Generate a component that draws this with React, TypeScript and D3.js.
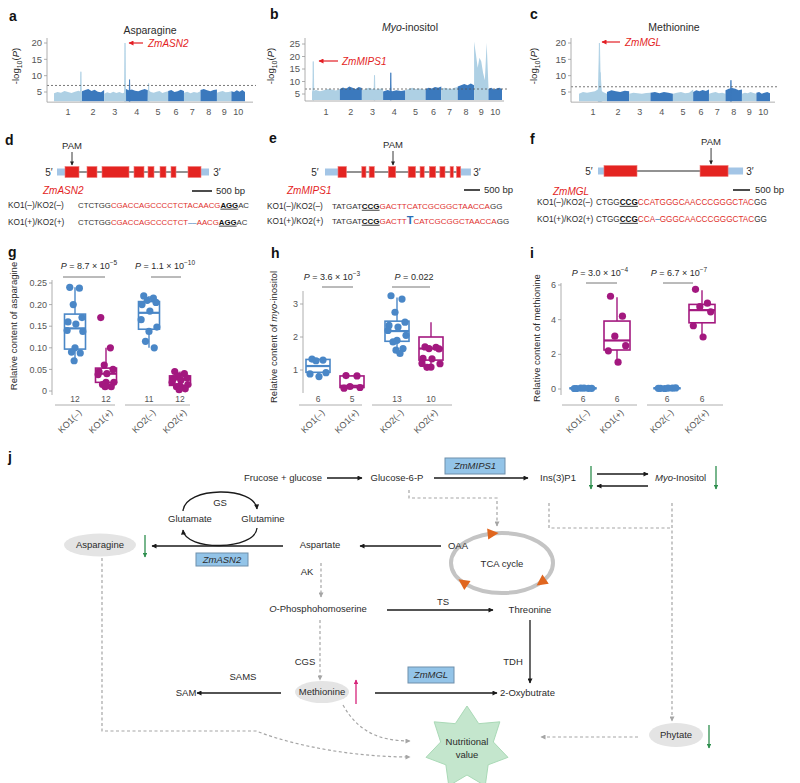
import React from 'react';
import * as d3 from 'd3';

const FONT = "'Liberation Sans', Arial, Helvetica, sans-serif";
const TXT = '#2b2b2b';
const GREY = '#555';
const BLUE = '#4a87c7';
const PURPLE = '#a3187f';
const LIGHT = '#aed0e4';
const DARK = '#3b79bd';
const RED = '#e31e24';

// ---------------- GWAS data ----------------
const chromosomes = ['1', '2', '3', '4', '5', '6', '7', '8', '9', '10'];
const chrLengthsMb = [308, 244, 235, 247, 223, 174, 182, 181, 159, 150];

const asnEnvelope = [
  [4.6, 5.0, 4.8, 5.3, 5.0, 4.7, 5.1, 5.4, 4.9],
  [5.2, 5.6, 5.9, 5.3, 5.7, 5.1, 4.9, 5.6],
  [4.5, 4.9, 4.6, 5.1, 4.7, 5.0, 4.6, 4.9],
  [6.0, 5.5, 5.8, 5.4, 5.2, 5.6, 5.9, 5.5],
  [5.6, 5.0, 4.8, 5.1, 5.3, 4.7, 5.0, 5.2],
  [5.3, 5.6, 5.0, 5.2, 5.7, 5.3],
  [4.8, 5.1, 4.6, 5.0, 4.8, 5.2],
  [5.6, 5.9, 5.5, 5.2, 5.6, 5.8],
  [4.8, 5.1, 5.3, 4.9, 5.0, 5.2],
  [5.2, 5.0, 5.5, 5.1, 5.6, 5.0],
];
// [chromosome index, position Mb, -log10 P, half span Mb]
const asnPeaks = [
  [0, 296, 11.2, 2],
  [2, 230, 20.0, 2],
  [3, 45, 8.8, 1],
  [4, 8, 7.6, 2],
];

const inoEnvelope = [
  [6.0, 6.6, 6.1, 6.5, 7.0, 6.8, 6.4, 7.0],
  [7.0, 7.6, 7.1, 8.0, 7.5, 7.0, 7.8, 7.4],
  [6.5, 7.0, 7.5, 7.0, 6.8, 7.1, 7.2],
  [6.0, 6.6, 6.1, 6.5, 6.2, 6.5],
  [6.5, 7.0, 7.5, 7.0, 7.2, 7.0, 6.8],
  [7.0, 7.5, 7.2, 7.8, 7.5, 8.0],
  [7.0, 7.5, 7.2, 7.0, 7.5, 7.8],
  [8.0, 8.5, 9.0, 8.5, 9.2, 8.5],
  [26.0, 21.0, 15.5, 19.5, 18.0, 13.5, 10.5, 25.5, 8.0],
  [7.0, 7.5, 6.8, 7.2, 7.5, 7.0],
];
const inoPeaks = [
  [0, 14, 18.0, 4],
  [2, 140, 12.5, 1],
  [3, 85, 13.5, 1],
];

const metEnvelope = [
  [4.5, 5.0, 4.8, 5.0, 5.2, 6.0, 5.0, 4.5],
  [5.0, 5.5, 5.2, 5.0, 5.4, 5.2],
  [4.5, 4.8, 4.6, 4.5, 4.7, 4.8],
  [4.8, 5.0, 4.6, 5.0, 4.8, 4.5],
  [4.5, 4.8, 5.0, 4.6, 4.8, 5.8],
  [5.0, 5.5, 5.2, 5.6, 5.3, 5.8],
  [4.5, 4.8, 5.0, 4.6, 4.8, 4.5],
  [5.5, 6.0, 6.2, 6.0, 5.5, 5.8],
  [4.5, 4.8, 4.6, 5.0, 4.7, 4.5],
  [4.8, 5.0, 4.5, 4.8, 5.0, 4.6],
];
const metPeaks = [
  [0, 225, 20.0, 14],
  [0, 232, 11.0, 22],
  [7, 60, 8.6, 2],
];

// ---------------- gene structures (bp) ----------------
const asn2Utr5 = [0, 200];
const asn2Exons = [[200, 550], [750, 1000], [1125, 1800], [1925, 2175], [2275, 2425], [2575, 2725], [2850, 2975], [3275, 3600]];
const asn2Utr3 = [3600, 3800];
const asn2Pam = 375;

const mips1Utr5 = [0, 406];
const mips1Exons = [[406, 670], [1150, 1280], [1380, 1540], [1980, 2210], [2600, 2830], [2970, 3100], [3260, 3460], [3590, 3750], [3910, 4010], [4110, 4240]];
const mips1Utr3 = [4240, 4560];
const mips1Pam = 2125;

const mglUtr5 = [0, 176];
const mglExons = [[176, 1147], [3000, 3824]];
const mglUtr3 = [3824, 4265];
const mglPam = 3324;

const genotypeLabels = ['KO1(–)/KO2(–)', 'KO1(+)/KO2(+)'];
// [sequence, role]
const asn2Seqs = [
  [['CTCTGG', 'flank'], ['CGACCAGCCCCTCTACAACG', 'target'], ['AGG', 'pam'], ['AC', 'flank']],
  [['CTCTGG', 'flank'], ['CGACCAGCCCCTCT', 'target'], ['––', 'edit'], ['AACG', 'target'], ['AGG', 'pam'], ['AC', 'flank']],
];
const mips1Seqs = [
  [['TATGAT', 'flank'], ['CCG', 'pam'], ['GACTTCATCGCGGCTAACCA', 'target'], ['GG', 'flank']],
  [['TATGAT', 'flank'], ['CCG', 'pam'], ['GACTT', 'target'], ['T', 'insert'], ['CATCGCGGCTAACCA', 'target'], ['GG', 'flank']],
];
const mglSeqs = [
  [['CTGG', 'flank'], ['CCG', 'pam'], ['CCATGGGCAACCCGGGCTAC', 'target'], ['GG', 'flank']],
  [['CTGG', 'flank'], ['CCG', 'pam'], ['CCA', 'target'], ['–', 'edit'], ['GGGCAACCCGGGCTAC', 'target'], ['GG', 'flank']],
];

// ---------------- phenotype data ----------------
const groupLabels = ['KO1(–)', 'KO1(+)', 'KO2(–)', 'KO2(+)'];

const asnValues = [
  [0.24, 0.238, 0.20, 0.17, 0.16, 0.155, 0.14, 0.138, 0.10, 0.09, 0.088, 0.07],
  [0.17, 0.10, 0.06, 0.05, 0.045, 0.04, 0.038, 0.02, 0.02, 0.015, 0.01, 0.01],
  [0.22, 0.215, 0.21, 0.205, 0.20, 0.185, 0.165, 0.148, 0.138, 0.115, 0.10],
  [0.045, 0.04, 0.035, 0.03, 0.028, 0.025, 0.02, 0.015, 0.012, 0.01, 0.005, 0.003],
];
// [q1, median, q3, low whisker, high whisker]
const asnBoxes = [
  [0.097, 0.145, 0.178, 0.07, 0.24],
  [0.02, 0.04, 0.053, 0.01, 0.10],
  [0.143, 0.181, 0.207, 0.10, 0.22],
  [0.013, 0.027, 0.035, 0.003, 0.045],
];
const asnCounts = [12, 12, 11, 12];
const asnP = [['8.7', '−5'], ['1.1', '−10']];

const inoValues = [
  [1.33, 1.3, 1.28, 0.92, 0.88, 0.80],
  [0.83, 0.82, 0.50, 0.47, 0.45],
  [3.25, 3.15, 2.75, 2.45, 2.35, 2.3, 2.2, 2.05, 1.9, 1.85, 1.65, 1.6, 1.5],
  [1.7, 1.69, 1.65, 1.64, 1.35, 1.34, 1.2, 1.19, 1.09, 1.08],
];
const inoBoxes = [
  [0.93, 1.12, 1.32, 0.80, 1.35],
  [0.47, 0.52, 0.82, 0.45, 0.84],
  [1.87, 2.18, 2.48, 1.5, 3.2],
  [1.3, 1.65, 2.0, 1.08, 2.45],
];
const inoCounts = [6, 5, 13, 10];
const inoP = [['3.6', '−3'], ['0.022', '']];

const metValues = [
  [0.03, 0.04, 0.05, 0.04, 0.03, 0.05],
  [5.35, 4.2, 3.05, 2.5, 2.2, 1.55],
  [0.04, 0.05, 0.03, 0.06, 0.04, 0.05],
  [5.75, 4.95, 4.75, 4.45, 3.65, 3.0],
];
const metBoxes = [
  [0.02, 0.04, 0.06, 0.01, 0.06],
  [2.25, 2.8, 3.92, 1.5, 5.3],
  [0.02, 0.05, 0.06, 0.02, 0.06],
  [3.82, 4.55, 4.88, 3.0, 5.7],
];
const metCounts = [6, 6, 6, 6];
const metP = [['3.0', '−4'], ['6.7', '−7']];

// ---------------- components ----------------
function Manhattan(props: any) {
  const { x0, x1, axisX, axisEnd, yDom, yRng, base, topY, ticks, threshold, env, peaks, labelX } = props;
  const total = d3.sum(chrLengthsMb);
  const starts = chrLengthsMb.map((_, i) => d3.sum(chrLengthsMb.slice(0, i)));
  const x = d3.scaleLinear().domain([0, total]).range([x0, x1]);
  const y = d3.scaleLinear().domain(yDom).range(yRng);
  const yb = y(base);
  const area = d3.area<number[]>().x(d => x(d[0])).y0(yb).y1(d => y(d[1]));
  const axisY = yb + 1;
  return (
    <g>
      {env.map((vals: number[], i: number) => {
        const s = starts[i], L = chrLengthsMb[i];
        const pts = vals.map((v, k) => [s + (L * k) / (vals.length - 1), v]);
        return <path key={i} d={area(pts) || ''} fill={i % 2 ? DARK : LIGHT} />;
      })}
      {peaks.map(([c, pos, v, hw]: number[], i: number) => {
        const px = x(starts[c] + pos);
        const w = Math.max(0.6, x(starts[c] + pos + hw) - px);
        const col = c % 2 ? DARK : LIGHT;
        return <path key={'p' + i} d={`M${px - w},${yb}L${px},${y(v)}L${px + w},${yb}Z`} fill={col} stroke={col} strokeWidth={0.8} />;
      })}
      <line x1={axisX} x2={axisEnd} y1={y(threshold)} y2={y(threshold)} stroke="#555" strokeWidth={0.8} strokeDasharray="2,2" />
      <line x1={axisX} x2={axisX} y1={topY} y2={axisY} stroke="#9a9a9a" strokeWidth={0.8} />
      <line x1={axisX} x2={axisEnd - 3} y1={axisY} y2={axisY} stroke="#9a9a9a" strokeWidth={0.8} />
      {ticks.map((t: number) => (
        <g key={t}>
          <line x1={axisX - 3} x2={axisX} y1={y(t)} y2={y(t)} stroke="#9a9a9a" strokeWidth={0.8} />
          <text x={axisX - 5} y={y(t)} dy="0.35em" textAnchor="end" fontSize={9.5} fill={GREY}>{t}</text>
        </g>
      ))}
      {chromosomes.map((c, i) => (
        <text key={c} x={x(starts[i] + chrLengthsMb[i] / 2)} y={112} dy="0.35em" textAnchor="middle" fontSize={9} fill={GREY}>{c}</text>
      ))}
      <text transform={`translate(${labelX},66) rotate(-90)`} textAnchor="middle" fontSize={9.5} fill={TXT}>
        -log<tspan fontSize={7} dy={2.5}>10</tspan><tspan dy={-2.5}>(</tspan><tspan fontStyle="italic">P</tspan>)
      </text>
    </g>
  );
}

function Gene(props: any) {
  const { x0, bpPerPx, y, utr5, exons, utr3, pam, pamLabelY, fiveX, threeX } = props;
  const x = d3.scaleLinear().domain([0, bpPerPx]).range([x0, x0 + 1]);
  return (
    <g>
      <line x1={x(utr5[1])} x2={x(utr3[0])} y1={y} y2={y} stroke="#6e6e6e" strokeWidth={1.5} />
      <rect x={x(utr5[0])} width={x(utr5[1]) - x(utr5[0])} y={y - 3.5} height={7} fill="#a3c5e6" />
      <rect x={x(utr3[0])} width={x(utr3[1]) - x(utr3[0])} y={y - 3.5} height={7} fill="#a3c5e6" />
      {exons.map((e: number[], i: number) => (
        <rect key={i} x={x(e[0])} width={x(e[1]) - x(e[0])} y={y - 5.5} height={11} fill="#e42421" stroke="#f07a78" strokeWidth={0.6} />
      ))}
      <text x={x(pam)} y={pamLabelY} textAnchor="middle" fontSize={9.5} fill={TXT}>PAM</text>
      <line x1={x(pam)} x2={x(pam)} y1={pamLabelY + 3} y2={y - 7} stroke="#222" strokeWidth={0.9} markerEnd="url(#ahSmall)" />
      <text x={fiveX} y={y} dy="0.35em" textAnchor="middle" fontSize={10} fill={TXT}>5′</text>
      <text x={threeX} y={y} dy="0.35em" textAnchor="middle" fontSize={10} fill={TXT}>3′</text>
    </g>
  );
}

function SeqRows(props: any) {
  const { labelX, seqX, ys, seqs, fs } = props;
  const col: any = { flank: '#333', target: '#e0302c', pam: '#111', edit: '#2a6db5', insert: '#2a6db5' };
  return (
    <g>
      {seqs.map((row: string[][], r: number) => (
        <g key={r}>
          <text x={labelX} y={ys[r]} dy="0.35em" fontSize={8.3} fill={TXT}>{genotypeLabels[r]}</text>
          <text x={seqX} y={ys[r]} dy="0.35em" fontSize={fs} fill={TXT}>
            {row.map(([s, role], k) => (
              <tspan key={k} fill={col[role]} fontWeight={role === 'pam' || role === 'insert' ? 'bold' : 'normal'}
                fontSize={role === 'insert' ? fs + 3 : fs}
                style={role === 'pam' ? { textDecoration: 'underline' } : undefined}>{s}</tspan>
            ))}
          </text>
        </g>
      ))}
    </g>
  );
}

function BoxPanel(props: any) {
  const { cx, yDom, yRng, axisX, axisTop, axisBottom, ticks, tickFmt, values, boxes, counts, pvals, pY, barY, pCenters, bars, segs, boxW, ylabel, ylabelX, ylabelY } = props;
  const y = d3.scaleLinear().domain(yDom).range(yRng);
  const jit = [-6, 5, -2, 8, -8, 1, -9, 9, 0, -4, 6, -1, 3];
  return (
    <g>
      <line x1={axisX} x2={axisX} y1={axisTop} y2={axisBottom} stroke="#9a9a9a" strokeWidth={0.8} />
      {ticks.map((t: number) => (
        <g key={t}>
          <line x1={axisX - 3} x2={axisX} y1={y(t)} y2={y(t)} stroke="#9a9a9a" strokeWidth={0.8} />
          <text x={axisX - 5} y={y(t)} dy="0.35em" textAnchor="end" fontSize={9} fill={GREY}>{tickFmt(t)}</text>
        </g>
      ))}
      {segs.map((s: number[], i: number) => (
        <line key={i} x1={s[0]} x2={s[1]} y1={405} y2={405} stroke="#9a9a9a" strokeWidth={0.8} />
      ))}
      {boxes.map((b: number[], i: number) => {
        const c = i % 2 ? PURPLE : BLUE;
        const [q1, md, q3, lo, hi] = b;
        const x = cx[i];
        return (
          <g key={i}>
            <line x1={x} x2={x} y1={y(q3)} y2={y(hi)} stroke={c} strokeWidth={1.4} />
            <line x1={x} x2={x} y1={y(q1)} y2={y(lo)} stroke={c} strokeWidth={1.4} />
            <rect x={x - boxW / 2} width={boxW} y={y(q3)} height={Math.max(0.5, y(q1) - y(q3))} fill="#fff" stroke={c} strokeWidth={1.6} />
            <line x1={x - boxW / 2} x2={x + boxW / 2} y1={y(md)} y2={y(md)} stroke={c} strokeWidth={2.2} />
            {values[i].map((v: number, j: number) => (
              <circle key={j} cx={x + (jit[j % jit.length] * boxW) / 24} cy={y(v)} r={3.6} fill={c} />
            ))}
            <text x={x} y={399} dy="0.35em" textAnchor="middle" fontSize={8.5} fill={GREY}>{counts[i]}</text>
            <text transform={`translate(${x + 5},411) rotate(-45)`} textAnchor="end" dy="0.35em" fontSize={9} fill={GREY}>{groupLabels[i]}</text>
          </g>
        );
      })}
      {pvals.map((p: string[], i: number) => (
        <g key={'p' + i}>
          <text x={pCenters[i]} y={pY} dy="0.35em" textAnchor="middle" fontSize={9} fill={TXT}>
            <tspan fontStyle="italic">P</tspan> = {p[0]}{p[1] ? ' × 10' : ''}
            {p[1] ? <tspan fontSize={6.5} dy={-4}>{p[1]}</tspan> : null}
          </text>
          <line x1={bars[i][0]} x2={bars[i][1]} y1={barY} y2={barY} stroke="#777" strokeWidth={1} />
        </g>
      ))}
      <text transform={`translate(${ylabelX},${ylabelY}) rotate(-90)`} textAnchor="middle" dy="0.35em" fontSize={9.5} fill={TXT}>{ylabel}</text>
    </g>
  );
}

function Pathway() {
  const blk = { stroke: '#1a1a1a', strokeWidth: 1.3, fill: 'none' };
  const dsh = { stroke: '#a5a5a5', strokeWidth: 1.2, strokeDasharray: '3,2.5', fill: 'none' };
  const t = { fontSize: 9.5, fill: TXT, textAnchor: 'middle' as const, dy: '0.35em' };
  const cx = 502, cy = 563, rx = 51, ry = 30;
  const tri = (deg: number) => {
    const a = (deg * Math.PI) / 180;
    const px = cx + rx * Math.cos(a), py = cy + ry * Math.sin(a);
    const tx = -rx * Math.sin(a), ty = ry * Math.cos(a);
    const n = Math.hypot(tx, ty);
    const ux = tx / n, uy = ty / n;
    const L = 11, W = 5.5;
    return `M${px + ux * L / 2},${py + uy * L / 2}L${px - ux * L / 2 - uy * W},${py - uy * L / 2 + ux * W}L${px - ux * L / 2 + uy * W},${py - uy * L / 2 - ux * W}Z`;
  };
  const sx = 467, sy = 748;
  const star = d3.range(14).map(k => {
    const a = -Math.PI / 2 + (k * Math.PI) / 7;
    const r = k % 2 === 0 ? 42 : 27;
    return [sx + r * Math.cos(a), sy + r * Math.sin(a)];
  });
  return (
    <g>
      {/* top row */}
      <text x={283} y={478} {...t}>Frucose + glucose</text>
      <line x1={327} x2={362} y1={478} y2={478} {...blk} markerEnd="url(#ah)" />
      <text x={397} y={478} {...t}>Glucose-6-P</text>
      <rect x={445} y={458} width={60} height={16} fill="#93c4e8" stroke="#6f8fab" strokeWidth={1} />
      <text x={475} y={466} {...t} fontStyle="italic">ZmMIPS1</text>
      <line x1={434} x2={528} y1={478} y2={478} {...blk} markerEnd="url(#ah)" />
      <text x={558} y={478} {...t}>Ins(3)P1</text>
      <line x1={591} x2={591} y1={466} y2={489} stroke="#2f8f4f" strokeWidth={1.3} markerEnd="url(#ahGreen)" />
      <line x1={597} x2={648} y1={474} y2={474} {...blk} markerEnd="url(#ah)" />
      <line x1={648} x2={597} y1={486} y2={486} {...blk} markerEnd="url(#ah)" />
      <text x={655} y={478} dy="0.35em" fontSize={9.5} fill={TXT}><tspan fontStyle="italic">Myo</tspan>-Inositol</text>
      <line x1={716} x2={716} y1={466} y2={489} stroke="#2f8f4f" strokeWidth={1.3} markerEnd="url(#ahGreen)" />

      {/* dashed from top row */}
      <path d="M409,490V498H497V526" {...dsh} markerEnd="url(#ahGrey)" />
      <path d="M549,503V528H672" {...dsh} />
      <path d="M672,503V721" {...dsh} markerEnd="url(#ahGrey)" />

      {/* GS cycle */}
      <text x={220} y={503} {...t}>GS</text>
      <text x={190} y={519} {...t}>Glutamate</text>
      <text x={263} y={519} {...t}>Glutamine</text>
      <path d="M183,511C185,486 255,486 257,509" {...blk} markerEnd="url(#ah)" />
      <path d="M257,528C255,551 185,551 183,530" {...blk} markerEnd="url(#ah)" />

      {/* aspartate row */}
      <ellipse cx={100} cy={545} rx={36} ry={11.5} fill="#e4e4e4" />
      <text x={100} y={545} {...t}>Asparagine</text>
      <line x1={145} x2={145} y1={535} y2={557} stroke="#2f8f4f" strokeWidth={1.3} markerEnd="url(#ahGreen)" />
      <line x1={283} x2={152} y1={546} y2={546} {...blk} markerEnd="url(#ah)" />
      <rect x={196} y={553} width={52} height={13} fill="#93c4e8" stroke="#6f8fab" strokeWidth={1} />
      <text x={222} y={559.5} {...t} fontStyle="italic">ZmASN2</text>
      <text x={320} y={545} {...t}>Aspartate</text>
      <line x1={441} x2={360} y1={546} y2={546} {...blk} markerEnd="url(#ah)" />

      {/* TCA */}
      <ellipse cx={cx} cy={cy} rx={rx} ry={ry} fill="none" stroke="#c4c4c4" strokeWidth={4} />
      <path d={tri(-100)} fill="#e0661f" />
      <path d={tri(40)} fill="#e0661f" />
      <path d={tri(140)} fill="#e0661f" />
      <text x={458} y={546} {...t}>OAA</text>
      <text x={502} y={564} {...t}>TCA cycle</text>

      {/* homoserine */}
      <text x={307} y={572} {...t}>AK</text>
      <path d="M321,563V597" {...dsh} markerEnd="url(#ahGrey)" />
      <text x={318} y={609} {...t}><tspan fontStyle="italic">O</tspan>-Phosphohomoserine</text>
      <line x1={387} x2={493} y1={610} y2={610} {...blk} markerEnd="url(#ah)" />
      <text x={443} y={602} {...t}>TS</text>
      <text x={530} y={610} {...t}>Threonine</text>
      <line x1={530} x2={530} y1={620} y2={683} {...blk} markerEnd="url(#ah)" />
      <text x={513} y={662} {...t}>TDH</text>
      <text x={305} y={662} {...t}>CGS</text>
      <path d="M320,620V680" {...dsh} markerEnd="url(#ahGrey)" />

      {/* methionine row */}
      <ellipse cx={322} cy={692} rx={27} ry={11} fill="#e4e4e4" />
      <text x={322} y={692} {...t}>Methionine</text>
      <line x1={356} x2={356} y1={704} y2={680} stroke="#d6247a" strokeWidth={1.3} markerEnd="url(#ahPink)" />
      <line x1={281} x2={197} y1={693} y2={693} {...blk} markerEnd="url(#ah)" />
      <text x={186} y={693} {...t}>SAM</text>
      <text x={243} y={677} {...t}>SAMS</text>
      <rect x={408} y={667} width={46} height={16} fill="#93c4e8" stroke="#6f8fab" strokeWidth={1} />
      <text x={431} y={675} {...t} fontStyle="italic">ZmMGL</text>
      <line x1={375} x2={497} y1={693} y2={693} {...blk} markerEnd="url(#ah)" />
      <text x={500} y={693} dy="0.35em" fontSize={9.5} fill={TXT}>2-Oxybutrate</text>

      {/* nutritional value */}
      <path d="M102,558V731H256C300,748 360,757 410,757" {...dsh} markerEnd="url(#ahGrey)" />
      <path d="M343,705C358,732 380,741 410,741" {...dsh} markerEnd="url(#ahGrey)" />
      <path d="M638,737H541" {...dsh} markerEnd="url(#ahGrey)" />
      <path d={'M' + star.map(p => p.join(',')).join('L') + 'Z'} fill="#c4e6cd" stroke="#a9d9b6" strokeWidth={1} />
      <text x={sx} y={sy - 6} {...t}>Nutritional</text>
      <text x={sx} y={sy + 7} {...t}>value</text>
      <ellipse cx={676} cy={735} rx={27} ry={12} fill="#e4e4e4" />
      <text x={676} y={735} {...t}>Phytate</text>
      <line x1={709} x2={709} y1={725} y2={748} stroke="#2f8f4f" strokeWidth={1.3} markerEnd="url(#ahGreen)" />
    </g>
  );
}

const marker = (id: string, color: string, w: number, h: number) => (
  <marker id={id} viewBox="0 0 10 10" refX={9} refY={5} markerWidth={w} markerHeight={h} orient="auto" markerUnits="userSpaceOnUse">
    <path d="M0,0L10,5L0,10Z" fill={color} />
  </marker>
);

export default function App() {
  const letter = (s: string, x: number, y: number) => (
    <text x={x} y={y} fontSize={14} fontWeight="bold" fill="#111">{s}</text>
  );
  return (
    <svg width={800} height={783} style={{ position: 'absolute', left: 0, top: 0 }} fontFamily={FONT}>
      <defs>
        {marker('ah', '#1a1a1a', 6, 5)}
        {marker('ahSmall', '#222', 5, 4)}
        {marker('ahGrey', '#a5a5a5', 6, 5)}
        {marker('ahGreen', '#2f8f4f', 5, 4.5)}
        {marker('ahPink', '#d6247a', 5, 4.5)}
        {marker('ahRed', RED, 6, 5)}
      </defs>
      <rect width={800} height={783} fill="#fff" />

      {/* ---- a, b, c ---- */}
      {letter('a', 9, 21)}
      {letter('b', 270, 19)}
      {letter('c', 530, 19)}
      <text x={150} y={30} textAnchor="middle" dy="0.35em" fontSize={10.5} fill={TXT}>Asparagine</text>
      <text x={410} y={27} textAnchor="middle" dy="0.35em" fontSize={10.5} fill={TXT}><tspan fontStyle="italic">Myo</tspan>-inositol</text>
      <text x={674} y={27} textAnchor="middle" dy="0.35em" fontSize={10.5} fill={TXT}>Methionine</text>
      <Manhattan x0={54} x1={245} axisX={47} axisEnd={256} yDom={[5, 20]} yRng={[92, 43]} base={2.2} topY={38}
        ticks={[5, 10, 15, 20]} threshold={7} env={asnEnvelope} peaks={asnPeaks} labelX={19} />
      <Manhattan x0={312} x1={502} axisX={305} axisEnd={507} yDom={[5, 25]} yRng={[94, 44]} base={2.6} topY={38}
        ticks={[5, 10, 15, 20, 25]} threshold={7} env={inoEnvelope} peaks={inoPeaks} labelX={274} />
      <Manhattan x0={579} x1={770} axisX={571} axisEnd={778} yDom={[5, 20]} yRng={[92, 43]} base={2.2} topY={38}
        ticks={[5, 10, 15, 20]} threshold={6.6} env={metEnvelope} peaks={metPeaks} labelX={537} />
      <line x1={143} x2={129} y1={43} y2={43} stroke={RED} strokeWidth={1.2} markerEnd="url(#ahRed)" />
      <text x={148} y={43} dy="0.35em" fontSize={10} fontStyle="italic" fill={RED}>ZmASN2</text>
      <line x1={338} x2={319} y1={61} y2={61} stroke={RED} strokeWidth={1.2} markerEnd="url(#ahRed)" />
      <text x={342} y={61} dy="0.35em" fontSize={10} fontStyle="italic" fill={RED}>ZmMIPS1</text>
      <line x1={620} x2={602} y1={42} y2={42} stroke={RED} strokeWidth={1.2} markerEnd="url(#ahRed)" />
      <text x={625} y={42} dy="0.35em" fontSize={10} fontStyle="italic" fill={RED}>ZmMGL</text>

      {/* ---- d, e, f ---- */}
      {letter('d', 5, 145)}
      {letter('e', 269, 143)}
      {letter('f', 530, 144)}
      <Gene x0={57} bpPerPx={25} y={172} utr5={asn2Utr5} exons={asn2Exons} utr3={asn2Utr3} pam={asn2Pam} pamLabelY={149} fiveX={49} threeX={217} />
      <Gene x0={325} bpPerPx={31.25} y={172} utr5={mips1Utr5} exons={mips1Exons} utr3={mips1Utr3} pam={mips1Pam} pamLabelY={148} fiveX={315} threeX={477} />
      <Gene x0={598} bpPerPx={29.4} y={171} utr5={mglUtr5} exons={mglExons} utr3={mglUtr3} pam={mglPam} pamLabelY={145} fiveX={589} threeX={750} />
      <text x={43} y={190} dy="0.35em" fontSize={10} fontStyle="italic" fill={RED}>ZmASN2</text>
      <text x={287} y={190} dy="0.35em" fontSize={10} fontStyle="italic" fill={RED}>ZmMIPS1</text>
      <text x={553} y={191} dy="0.35em" fontSize={10} fontStyle="italic" fill={RED}>ZmMGL</text>
      <line x1={192} x2={212} y1={191} y2={191} stroke="#111" strokeWidth={1.5} />
      <text x={216} y={191} dy="0.35em" fontSize={9.5} fill={TXT}>500 bp</text>
      <line x1={464} x2={480} y1={190} y2={190} stroke="#111" strokeWidth={1.5} />
      <text x={484} y={190} dy="0.35em" fontSize={9.5} fill={TXT}>500 bp</text>
      <line x1={733} x2={750} y1={190} y2={190} stroke="#111" strokeWidth={1.5} />
      <text x={755} y={190} dy="0.35em" fontSize={9.5} fill={TXT}>500 bp</text>
      <SeqRows labelX={8} seqX={78} ys={[205, 222]} seqs={asn2Seqs} fs={7.8} />
      <SeqRows labelX={267} seqX={332} ys={[206, 221]} seqs={mips1Seqs} fs={8} />
      <SeqRows labelX={537} seqX={596} ys={[202, 219]} seqs={mglSeqs} fs={8.2} />

      {/* ---- g, h, i ---- */}
      {letter('g', 8, 257)}
      {letter('h', 271, 258)}
      {letter('i', 530, 258)}
      <BoxPanel cx={[75, 106, 149, 180]} yDom={[0, 0.25]} yRng={[391, 283]} axisX={52} axisTop={280} axisBottom={395}
        ticks={[0, 0.05, 0.1, 0.15, 0.2, 0.25]} tickFmt={(v: number) => (v === 0 ? '0' : d3.format('.2f')(v))}
        values={asnValues} boxes={asnBoxes} counts={asnCounts} pvals={asnP} pY={266} barY={277} pCenters={[89, 165]}
        bars={[[63, 105], [151, 181]]} segs={[[55, 115], [125, 190]]} boxW={21}
        ylabel="Relative content of asparagine" ylabelX={14} ylabelY={326} />
      <BoxPanel cx={[318, 352, 397, 431]} yDom={[1, 3]} yRng={[370, 304]} axisX={303} axisTop={291} axisBottom={393}
        ticks={[1, 2, 3]} tickFmt={(v: number) => String(v)}
        values={inoValues} boxes={inoBoxes} counts={inoCounts} pvals={inoP} pY={277} barY={287} pCenters={[332, 414]}
        bars={[[322, 353], [392, 430]]} segs={[[299, 362], [372, 452]]} boxW={24}
        ylabel={<><tspan>Relative content of </tspan><tspan fontStyle="italic">myo</tspan><tspan>-inositol</tspan></>} ylabelX={274} ylabelY={337} />
      <BoxPanel cx={[583, 617, 667, 702]} yDom={[0, 6]} yRng={[389, 285]} axisX={561} axisTop={283} axisBottom={395}
        ticks={[0, 2, 4, 6]} tickFmt={(v: number) => String(v)}
        values={metValues} boxes={metBoxes} counts={metCounts} pvals={metP} pY={273} barY={283} pCenters={[600, 679]}
        bars={[[586, 617], [663, 693]]} segs={[[562, 637], [647, 723]]} boxW={26}
        ylabel="Relative content of methionine" ylabelX={537} ylabelY={338} />

      {/* ---- j ---- */}
      {letter('j', 8, 462)}
      <Pathway />
    </svg>
  );
}
